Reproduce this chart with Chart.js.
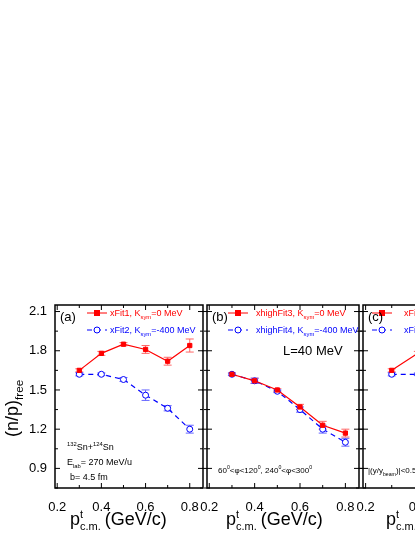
<!DOCTYPE html>
<html><head><meta charset="utf-8">
<script src="https://cdn.jsdelivr.net/npm/chart.js@4"></script>
<style>
body{margin:0;background:#fff;font-family:"Liberation Sans",Arial,sans-serif}
#wrap{position:relative;width:415px;height:537px;overflow:hidden}
canvas{position:absolute}
.t{position:absolute;white-space:nowrap;line-height:1}
sub,sup{font-size:65%;line-height:0}
.st{display:inline-block;vertical-align:middle;font-size:11px;line-height:12px;text-align:left;margin-right:4px}
</style></head><body><div id="wrap">
<canvas id="ca" style="left:0;top:300px" width="208" height="220"></canvas>
<canvas id="cb" style="left:187px;top:300px" width="177" height="220"></canvas>
<canvas id="cc" style="left:343px;top:300px" width="200" height="220"></canvas>
<div class="t" style="left:3px;top:437px;font-size:18px;transform-origin:0 0;transform:rotate(-90deg)">(n/p)<sub>free</sub></div>
<div class="t" style="left:70px;top:508px;font-size:18px">p<span class="st">t<br>c.m.</span>(GeV/c)</div>
<div class="t" style="left:226px;top:508px;font-size:18px">p<span class="st">t<br>c.m.</span>(GeV/c)</div>
<div class="t" style="left:386px;top:508px;font-size:18px">p<span class="st">t<br>c.m.</span></div>
<div class="t" style="left:60px;top:310px;font-size:13px">(a)</div>
<div class="t" style="left:212px;top:310px;font-size:13px">(b)</div>
<div class="t" style="left:368px;top:310px;font-size:13px">(c)</div>
<div class="t" style="left:110px;top:309px;font-size:9px;color:#f00">xFit1, K<sub>sym</sub>=0 MeV</div>
<div class="t" style="left:110px;top:326px;font-size:9px;color:#00f">xFit2, K<sub>sym</sub>=-400 MeV</div>
<div class="t" style="left:256px;top:309px;font-size:9px;color:#f00">xhighFit3, K<sub>sym</sub>=0 MeV</div>
<div class="t" style="left:256px;top:326px;font-size:9px;color:#00f">xhighFit4, K<sub>sym</sub>=-400 MeV</div>
<div class="t" style="left:404px;top:309px;font-size:9px;color:#f00">xFit</div>
<div class="t" style="left:404px;top:326px;font-size:9px;color:#00f">xFit</div>
<div class="t" style="left:283px;top:344px;font-size:13px">L=40 MeV</div>
<div class="t" style="left:67px;top:443px;font-size:9px"><sup>132</sup>Sn+<sup>124</sup>Sn</div>
<div class="t" style="left:67px;top:458px;font-size:9px">E<sub>lab</sub>= 270 MeV/u</div>
<div class="t" style="left:70px;top:473px;font-size:9px">b= 4.5 fm</div>
<div class="t" style="left:218px;top:467px;font-size:8px">60<sup>0</sup>&lt;φ&lt;120<sup>0</sup>, 240<sup>0</sup>&lt;φ&lt;300<sup>0</sup></div>
<div class="t" style="left:368px;top:467px;font-size:8px">|(y/y<sub>beam</sub>)|&lt;0.5</div>
</div>
<script>
const xs=[0.3,0.4,0.5,0.6,0.7,0.8];
const xTicks=[0.2,0.4,0.6,0.8];
const yTicks=[0.9,1.2,1.5,1.8,2.1];
const aRed=[1.65,1.78,1.85,1.81,1.72,1.84], aRedErr=[0.012,0.015,0.012,0.03,0.03,0.05];
const aBlue=[1.62,1.62,1.58,1.46,1.36,1.20], aBlueErr=[0.012,0.01,0.015,0.04,0.02,0.03];
const bRed=[1.62,1.57,1.50,1.37,1.23,1.17], bRedErr=[0.01,0.02,0.01,0.02,0.03,0.03];
const bBlue=[1.62,1.57,1.49,1.35,1.20,1.10], bBlueErr=[0.01,0.02,0.01,0.02,0.03,0.03];
const cRed=[1.65,1.78,1.85,1.81,1.72,1.84], cRedErr=[0.012,0.015,0.012,0.03,0.03,0.05];
const cBlue=[1.62,1.62,1.58,1.46,1.36,1.20], cBlueErr=[0.012,0.01,0.015,0.04,0.02,0.03];

const frame={id:'frame',
 beforeDatasetsDraw(c){const {ctx,scales:{x,y}}=c;ctx.save();
  c.data.datasets.forEach(d=>{ctx.strokeStyle=d.errColor;ctx.lineWidth=1;
   d.data.forEach((p,i)=>{const e=d.err[i],px=x.getPixelForValue(p.x);
    const t=y.getPixelForValue(p.y+e),b=y.getPixelForValue(p.y-e);
    ctx.beginPath();ctx.moveTo(px,t);ctx.lineTo(px,b);ctx.moveTo(px-4,t);ctx.lineTo(px+4,t);ctx.moveTo(px-4,b);ctx.lineTo(px+4,b);ctx.stroke();});});
  ctx.restore();},
 afterDraw(c){const {ctx,chartArea:a,scales:{x,y}}=c;const o=c.options.plugins.frame;ctx.save();
  ctx.strokeStyle='#000';ctx.lineWidth=1.5;ctx.strokeRect(a.left,a.top,a.right-a.left,a.bottom-a.top);ctx.lineWidth=1;
  ctx.beginPath();
  for(let k=2;k<=8;k++){const v=k/10,px=x.getPixelForValue(v);const L=k%2===0?5:3;
   ctx.moveTo(px,a.bottom);ctx.lineTo(px,a.bottom-L);ctx.moveTo(px,a.top);ctx.lineTo(px,a.top+L);}
  for(let k=5;k<=14;k++){const v=k*0.15,py=y.getPixelForValue(v);const L=k%2===0?5:3;
   ctx.moveTo(a.left-(o.both?L:0),py);ctx.lineTo(a.left+L,py);ctx.moveTo(a.right-L,py);ctx.lineTo(a.right+(o.both?L:0),py);}
  ctx.stroke();
  if(o.labelsY){ctx.fillStyle='#000';ctx.font='13px "Liberation Sans"';ctx.textAlign='right';ctx.textBaseline='middle';
   yTicks.forEach(v=>ctx.fillText(v.toFixed(1),a.left-8,y.getPixelForValue(v)));}
  const lx=a.left+o.lg;[[a.top+8,'#f00',[],true],[a.top+25,'#00f',[5,4],false]].forEach(([ly,col,dash,fill])=>{
   ctx.strokeStyle=col;ctx.setLineDash(dash);ctx.beginPath();ctx.moveTo(lx,ly);ctx.lineTo(lx+20,ly);ctx.stroke();ctx.setLineDash([]);
   ctx.beginPath();if(fill){ctx.fillStyle=col;ctx.fillRect(lx+7,ly-3,6,6);}else{ctx.fillStyle='#fff';ctx.arc(lx+10,ly,3,0,7);ctx.fill();ctx.stroke();}});
  ctx.restore();}};

function mk(id,red,redE,blue,blueE,yw,showY,lg,padL){
 const pts=v=>xs.map((x,i)=>({x,y:v[i]}));
 new Chart(document.getElementById(id),{type:'scatter',plugins:[frame],
  data:{datasets:[
   {data:pts(red),err:redE,errColor:'#f66',showLine:true,borderColor:'#f00',backgroundColor:'#f00',pointStyle:'rect',pointRadius:3,borderWidth:1.2,pointBorderWidth:1},
   {data:pts(blue),err:blueE,errColor:'#66f',showLine:true,borderDash:[5,4],borderColor:'#00f',backgroundColor:'#fff',pointStyle:'circle',pointRadius:3,borderWidth:1.2,pointBorderWidth:1}]},
  options:{responsive:false,animation:false,devicePixelRatio:1,
   layout:{padding:{top:5,right:1,left:padL,bottom:0}},
   plugins:{legend:{display:false},tooltip:{enabled:false},frame:{both:!showY,lg,labelsY:showY}},
   scales:{
    x:{type:'linear',min:0.19,max:0.86,grid:{display:false},border:{display:false},
     afterBuildTicks:s=>{s.ticks=xTicks.map(v=>({value:v}));},afterFit:s=>{s.height=32;},
     ticks:{color:'#000',font:{family:'Liberation Sans',size:13},padding:4,callback:v=>v.toFixed(1),maxRotation:0,autoSkip:false}},
    y:{type:'linear',min:0.75,max:2.15,grid:{display:false},border:{display:false},
     afterBuildTicks:s=>{s.ticks=yTicks.map(v=>({value:v}));},afterFit:s=>{s.width=yw;},
     ticks:{display:false}}}}});
}
mk('ca',aRed,aRedErr,aBlue,aBlueErr,55,true,32,0);
mk('cb',bRed,bRedErr,bBlue,bBlueErr,0,false,21,20);
mk('cc',cRed,cRedErr,cBlue,cBlueErr,0,false,9,20);
</script></body></html>
